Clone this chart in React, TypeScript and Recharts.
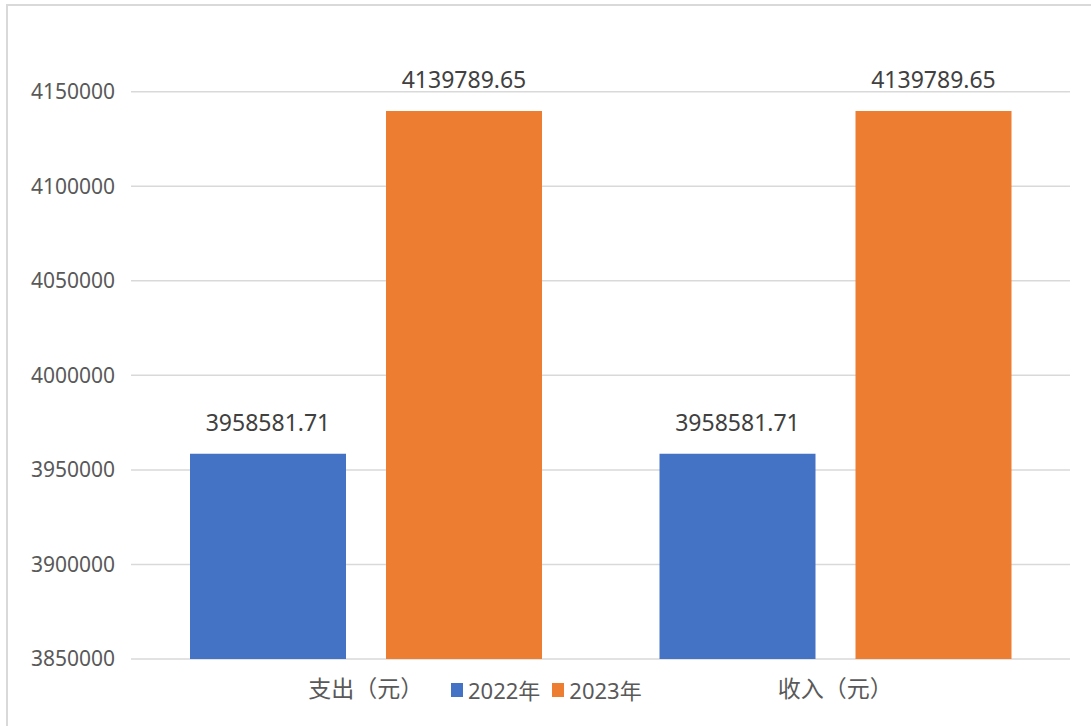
import { BarChart, Bar, XAxis, YAxis, CartesianGrid, LabelList } from 'recharts';

const categories = ['支出（元）', '收入（元）'];
const series2022 = [3958581.71, 3958581.71];
const series2023 = [4139789.65, 4139789.65];
const yTicks = [3850000, 3900000, 3950000, 4000000, 4050000, 4100000, 4150000];

const seriesNames = ['2022年', '2023年'];
const seriesColors = ['#4472C4', '#ED7D31'];

const data = categories.map((name, i) => ({
  name,
  y2022: series2022[i],
  y2023: series2023[i],
}));

const font = '"Noto Sans", "Noto Sans CJK SC", sans-serif';
const textColor = '#595959';

// legend sits on the same line as the category labels, so it's drawn outside the chart
function ChartLegend() {
  return (
    <div
      style={{
        position: 'absolute',
        left: 451,
        top: 675,
        display: 'flex',
        alignItems: 'center',
        fontFamily: font,
        fontSize: 22,
        color: textColor,
        lineHeight: '30px',
      }}
    >
      {seriesNames.map((n, i) => (
        <div key={n} style={{ display: 'flex', alignItems: 'center', marginRight: 12 }}>
          <span style={{ display: 'inline-block', width: 12, height: 14, background: seriesColors[i], marginRight: 5 }} />
          <span>{n}</span>
        </div>
      ))}
    </div>
  );
}

export default function App() {
  return (
    <div style={{ position: 'absolute', left: 0, top: 0, width: 1091, height: 726, overflow: 'hidden', background: '#fff' }}>
      <div
        style={{
          position: 'absolute',
          left: 6,
          top: 4,
          width: 1200,
          height: 800,
          border: '2px solid #d9d9d9',
        }}
      />
      <BarChart
        width={1091}
        height={726}
        data={data}
        margin={{ top: 16, right: 21, left: 0, bottom: 7 }}
        barSize={156}
        barGap={40}
        style={{ position: 'absolute', left: 0, top: 0 }}
      >
        <CartesianGrid stroke="#d9d9d9" strokeWidth={1.5} vertical={false} horizontalValues={yTicks} />
        <XAxis
          dataKey="name"
          axisLine={false}
          tickLine={false}
          tickSize={0}
          tickMargin={22}
          height={60}
          tick={{ fill: textColor, fontSize: 23, fontFamily: font }}
        />
        <YAxis
          domain={[3850000, 4190000]}
          ticks={yTicks}
          allowDataOverflow
          axisLine={false}
          tickLine={false}
          tickSize={0}
          tickMargin={16}
          width={131}
          tick={{ fill: textColor, fontSize: 21, fontFamily: font }}
        />
        <Bar dataKey="y2022" name={seriesNames[0]} fill={seriesColors[0]} isAnimationActive={false}>
          <LabelList dataKey="y2022" position="top" offset={23} fill="#404040" fontSize={23} fontFamily={font} />
        </Bar>
        <Bar dataKey="y2023" name={seriesNames[1]} fill={seriesColors[1]} isAnimationActive={false}>
          <LabelList dataKey="y2023" position="top" offset={23} fill="#404040" fontSize={23} fontFamily={font} />
        </Bar>
      </BarChart>
      <ChartLegend />
    </div>
  );
}
